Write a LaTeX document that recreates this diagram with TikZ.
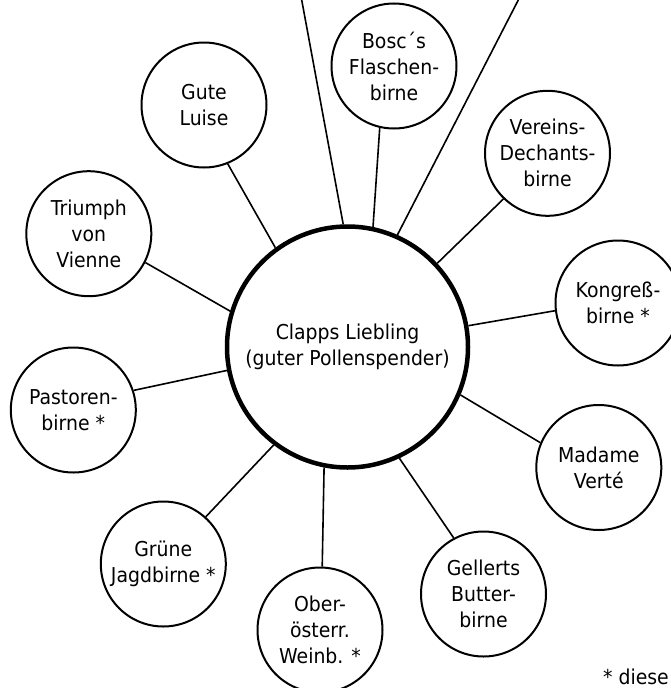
\documentclass[tikz,border=0pt]{standalone}
\usepackage{fontspec}
\setmainfont{DejaVu Sans}[FakeStretch=0.92]
\begin{document}
\begin{tikzpicture}[x=1pt,y=-1pt,
  every node/.style={font=\fontsize{20.5}{26}\selectfont, align=center, inner sep=0pt},
  sort/.style={circle, draw, line width=2pt, minimum size=125pt},
  hub/.style={circle, draw, line width=4.5pt, minimum size=241pt},
  link/.style={line width=1.6pt}]
\useasboundingbox (0,0) rectangle (671,688);
\node[hub] (center) at (347.5,347) {Clapps Liebling\\(guter Pollenspender)};
\node[sort] (bosc) at (394,66) {Bosc´s\\Flaschen-\\birne};
\node[sort] (luise) at (204,105) {Gute\\Luise};
\node[sort] (vereins) at (547.5,153.3) {Vereins-\\Dechants-\\birne};
\node[sort] (triumph) at (88.8,233.7) {Triumph\\von\\Vienne};
\node[sort] (kongress) at (618,303) {Kongreß-\\birne *};
\node[sort] (pastoren) at (73.3,410) {Pastoren-\\birne *};
\node[sort] (madame) at (598.8,467.5) {Madame\\Verté};
\node[sort] (gruene) at (163.3,564) {Grüne\\Jagdbirne *};
\node[sort] (ober) at (320,630) {Ober-\\österr.\\Weinb. *};
\node[sort] (gellerts) at (483.5,594) {Gellerts\\Butter-\\birne};
\node[anchor=base east] (note) at (669,684) {* diese};
\coordinate (topA) at (301.7,0);
\coordinate (topB) at (518.3,0);
\draw[link] (luise.-68.2) -- (center.126.9);
\draw[link] (topA) -- (center.92.7);
\draw[link] (bosc.-103.9) -- (center.78.6);
\draw[link] (topB) -- (center.66.6);
\draw[link] (vereins.-134.5) -- (center.43.2);
\draw[link] (kongress.-173.8) -- (center.10.2);
\draw[link] (triumph.-27.8) -- (center.163.3);
\draw[link] (pastoren.18.4) -- (center.-169.2);
\draw[link] (madame.157) -- (center.-23.2);
\draw[link] (gruene.48.6) -- (center.-127.9);
\draw[link] (ober.88) -- (center.-101.4);
\draw[link] (gellerts.118.5) -- (center.-65.7);
\end{tikzpicture}
\end{document}
